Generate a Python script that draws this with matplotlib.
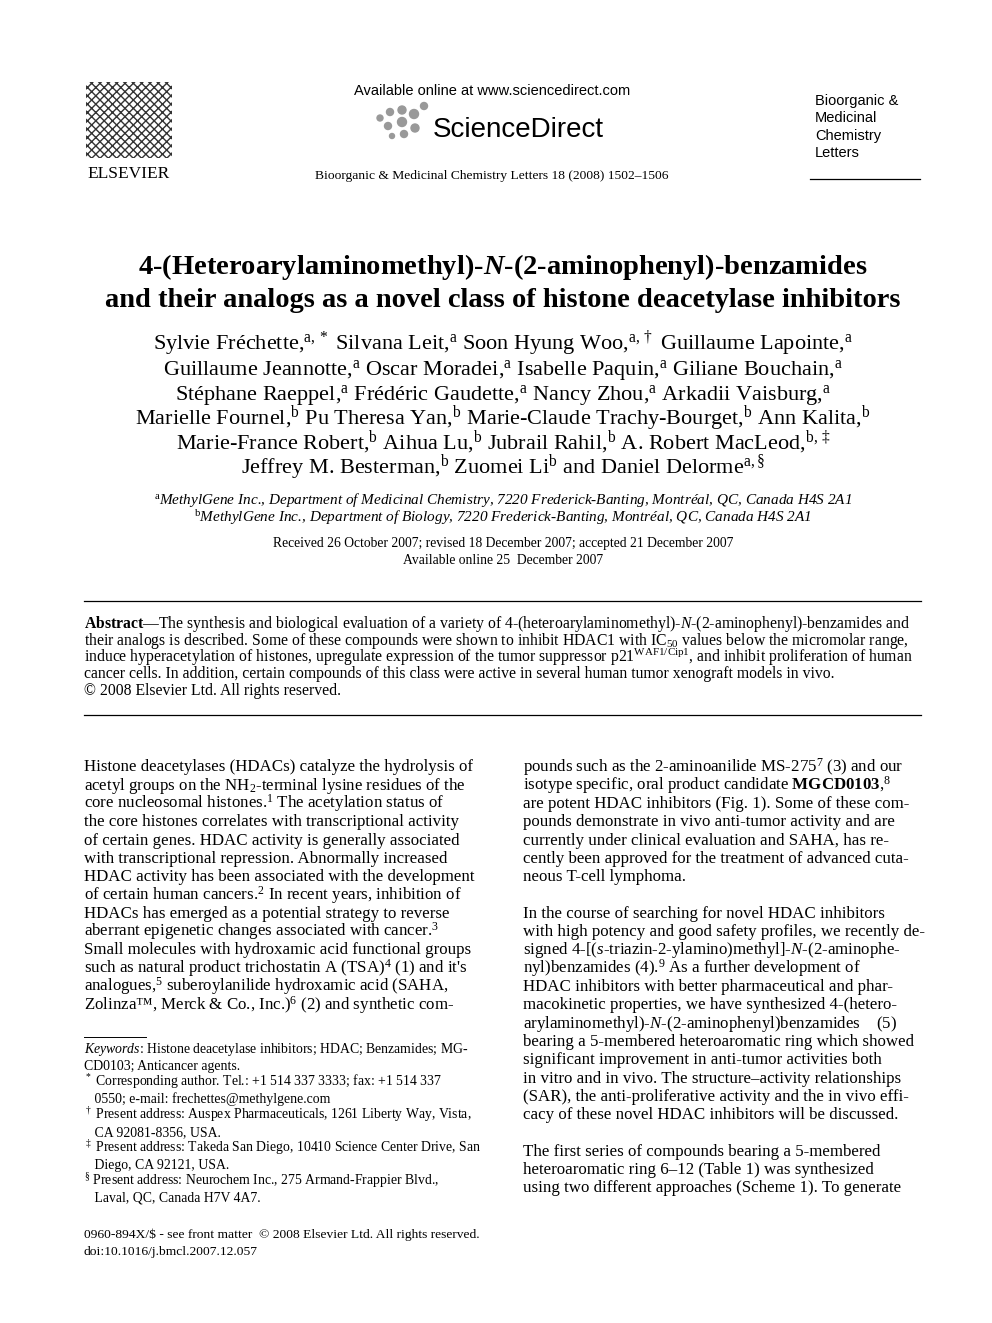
import matplotlib
matplotlib.use("Agg")
import matplotlib.pyplot as plt
from matplotlib.patches import Rectangle, Circle

plt.rcParams['font.family'] = ['Liberation Serif', 'DejaVu Serif']
plt.rcParams['mathtext.fontset'] = 'custom'
plt.rcParams['mathtext.rm'] = 'Liberation Serif'
plt.rcParams['mathtext.it'] = 'Liberation Serif:italic'
plt.rcParams['mathtext.bf'] = 'Liberation Serif:bold'
plt.rcParams['mathtext.bfit'] = 'Liberation Serif:italic:bold'

W, H = 992, 1323

title_lines = [
    r"4-(Heteroarylaminomethyl)-$\mathbfit{N}$-(2-aminophenyl)-benzamides",
    "and their analogs as a novel class of histone deacetylase inhibitors",
]
author_lines = [
    r"Sylvie Fréchette,$^{\rm a,*}$ Silvana Leit,$^{\rm a}$ Soon Hyung Woo,$^{\rm a,\dagger}$ Guillaume Lapointe,$^{\rm a}$",
    r"Guillaume Jeannotte,$^{\rm a}$ Oscar Moradei,$^{\rm a}$ Isabelle Paquin,$^{\rm a}$ Giliane Bouchain,$^{\rm a}$",
    r"Stéphane Raeppel,$^{\rm a}$ Frédéric Gaudette,$^{\rm a}$ Nancy Zhou,$^{\rm a}$ Arkadii Vaisburg,$^{\rm a}$",
    r"Marielle Fournel,$^{\rm b}$ Pu Theresa Yan,$^{\rm b}$ Marie-Claude Trachy-Bourget,$^{\rm b}$ Ann Kalita,$^{\rm b}$",
    r"Marie-France Robert,$^{\rm b}$ Aihua Lu,$^{\rm b}$ Jubrail Rahil,$^{\rm b}$ A. Robert MacLeod,$^{\rm b,\ddagger}$",
    r"Jeffrey M. Besterman,$^{\rm b}$ Zuomei Li$^{\rm b}$ and Daniel Delorme$^{\rm a,\S}$",
]
affil_lines = [
    r"$^{\rm a}$MethylGene Inc., Department of Medicinal Chemistry, 7220 Frederick-Banting, Montréal, QC, Canada H4S 2A1",
    r"$^{\rm b}$MethylGene Inc., Department of Biology, 7220 Frederick-Banting, Montréal, QC, Canada H4S 2A1",
]
dates_lines = [
    "Received 26 October 2007; revised 18 December 2007; accepted 21 December 2007",
    "Available online 25  December 2007",
]
abstract_lines = [
    r"$\mathbf{Abstract}$—The synthesis and biological evaluation of a variety of 4-(heteroarylaminomethyl)-$\mathit{N}$-(2-aminophenyl)-benzamides and",
    r"their analogs is described. Some of these compounds were shown to inhibit HDAC1 with IC$_{50}$ values below the micromolar range,",
    r"induce hyperacetylation of histones, upregulate expression of the tumor suppressor p21$^{\rm WAF1/Cip1}$, and inhibit proliferation of human",
    "cancer cells. In addition, certain compounds of this class were active in several human tumor xenograft models in vivo.",
    "© 2008 Elsevier Ltd. All rights reserved.",
]
left_col = [
    "Histone deacetylases (HDACs) catalyze the hydrolysis of",
    r"acetyl groups on the NH$_2$-terminal lysine residues of the",
    r"core nucleosomal histones.$^1$ The acetylation status of",
    "the core histones correlates with transcriptional activity",
    "of certain genes. HDAC activity is generally associated",
    "with transcriptional repression. Abnormally increased",
    "HDAC activity has been associated with the development",
    r"of certain human cancers.$^2$ In recent years, inhibition of",
    "HDACs has emerged as a potential strategy to reverse",
    r"aberrant epigenetic changes associated with cancer.$^3$",
    "Small molecules with hydroxamic acid functional groups",
    r"such as natural product trichostatin A (TSA)$^4$ (1) and it's",
    r"analogues,$^5$ suberoylanilide hydroxamic acid (SAHA,",
    r"Zolinza™, Merck & Co., Inc.)$^6$ (2) and synthetic com-",
]
right_col = [
    r"pounds such as the 2-aminoanilide MS-275$^7$ (3) and our",
    r"isotype specific, oral product candidate $\mathbf{MGCD0103}$,$^8$",
    "are potent HDAC inhibitors (Fig. 1). Some of these com-",
    "pounds demonstrate in vivo anti-tumor activity and are",
    "currently under clinical evaluation and SAHA, has re-",
    "cently been approved for the treatment of advanced cuta-",
    "neous T-cell lymphoma.",
    "",
    "In the course of searching for novel HDAC inhibitors",
    "with high potency and good safety profiles, we recently de-",
    r"signed 4-[($\mathit{s}$-triazin-2-ylamino)methyl]-$\mathit{N}$-(2-aminophe-",
    r"nyl)benzamides (4).$^9$ As a further development of",
    "HDAC inhibitors with better pharmaceutical and phar-",
    "macokinetic properties, we have synthesized 4-(hetero-",
    r"arylaminomethyl)-$\mathit{N}$-(2-aminophenyl)benzamides    (5)",
    "bearing a 5-membered heteroaromatic ring which showed",
    "significant improvement in anti-tumor activities both",
    "in vitro and in vivo. The structure–activity relationships",
    "(SAR), the anti-proliferative activity and the in vivo effi-",
    "cacy of these novel HDAC inhibitors will be discussed.",
    "",
    "The first series of compounds bearing a 5-membered",
    "heteroaromatic ring 6–12 (Table 1) was synthesized",
    "using two different approaches (Scheme 1). To generate",
]
footnote_lines = [
    r"$\mathit{Keywords}$: Histone deacetylase inhibitors; HDAC; Benzamides; MG-",
    "CD0103; Anticancer agents.",
    r"$^*$ Corresponding author. Tel.: +1 514 337 3333; fax: +1 514 337",
    "   0550; e-mail: frechettes@methylgene.com",
    r"$^\dagger$ Present address: Auspex Pharmaceuticals, 1261 Liberty Way, Vista,",
    "   CA 92081-8356, USA.",
    r"$^\ddagger$ Present address: Takeda San Diego, 10410 Science Center Drive, San",
    "   Diego, CA 92121, USA.",
    r"$^\S$ Present address: Neurochem Inc., 275 Armand-Frappier Blvd.,",
    "   Laval, QC, Canada H7V 4A7.",
]
bottom_lines = [
    "0960-894X/$ - see front matter  © 2008 Elsevier Ltd. All rights reserved.",
    "doi:10.1016/j.bmcl.2007.12.057",
]
journal_name = ["Bioorganic &", "Medicinal", "Chemistry", "Letters"]

fig = plt.figure(figsize=(W / 100, H / 100), dpi=100)
ax = fig.add_axes([0, 0, 1, 1])
ax.set_xlim(0, W)
ax.set_ylim(H, 0)
ax.axis("off")


def put(x, y, s, size, ha="left", **kw):
    if "\\" not in s and "^" not in s and "_" not in s:
        s = s.replace("$", r"\$")
    ax.text(x, y + size * 0.45, s, fontsize=size, ha=ha, va="baseline", **kw)


# header
ax.add_patch(Rectangle((86, 82), 86, 76, facecolor="none", edgecolor="#333", hatch="xxxx", lw=0))
put(129, 172, "ELSEVIER", 12.5, ha="center")
put(492, 90, "Available online at www.sciencedirect.com", 10.5, ha="center", family="Liberation Sans")
for cx, cy, r in [(380, 118, 3), (390, 112, 3.5), (402, 110, 4), (388, 126, 3.5), (402, 122, 4.5),
                  (414, 114, 4.5), (415, 128, 4), (404, 134, 3.5), (424, 106, 3.5), (392, 136, 2.5)]:
    ax.add_patch(Circle((cx, cy), r, color="#999"))
put(433, 128, "ScienceDirect", 20, family="Liberation Sans")
put(492, 175, "Bioorganic & Medicinal Chemistry Letters 18 (2008) 1502–1506", 9.7, ha="center")
for i, s in enumerate(journal_name):
    put(815, 100 + i * 17.5, s, 10.5, family="Liberation Sans")
ax.plot([810, 920], [179, 179], color="black", lw=0.9)

for i, s in enumerate(title_lines):
    put(503, 265 + i * 33, s, 20.5, ha="center", weight="bold")
for i, s in enumerate(author_lines):
    put(503, 343 + i * 24.8, s, 16, ha="center")
for i, s in enumerate(affil_lines):
    put(503, 499 + i * 18, s, 11, ha="center", style="italic")
for i, s in enumerate(dates_lines):
    put(503, 543 + i * 16.5, s, 9.8, ha="center")

ax.plot([84, 921], [601, 601], color="black", lw=0.9)
for i, s in enumerate(abstract_lines):
    put(84, 623 + i * 16.8, s, 11.3)
ax.plot([84, 921], [715, 715], color="black", lw=0.9)

for i, s in enumerate(left_col):
    put(84, 766 + i * 18.3, s, 12.2)
for i, s in enumerate(right_col):
    put(523, 766 + i * 18.3, s, 12.2)

ax.plot([84, 146], [1037, 1037], color="black", lw=0.7)
for i, s in enumerate(footnote_lines):
    put(84, 1049 + i * 16.5, s, 9.9)
for i, s in enumerate(bottom_lines):
    put(84, 1234 + i * 16.5, s, 9.7)

fig.savefig("out.png", dpi=100)
